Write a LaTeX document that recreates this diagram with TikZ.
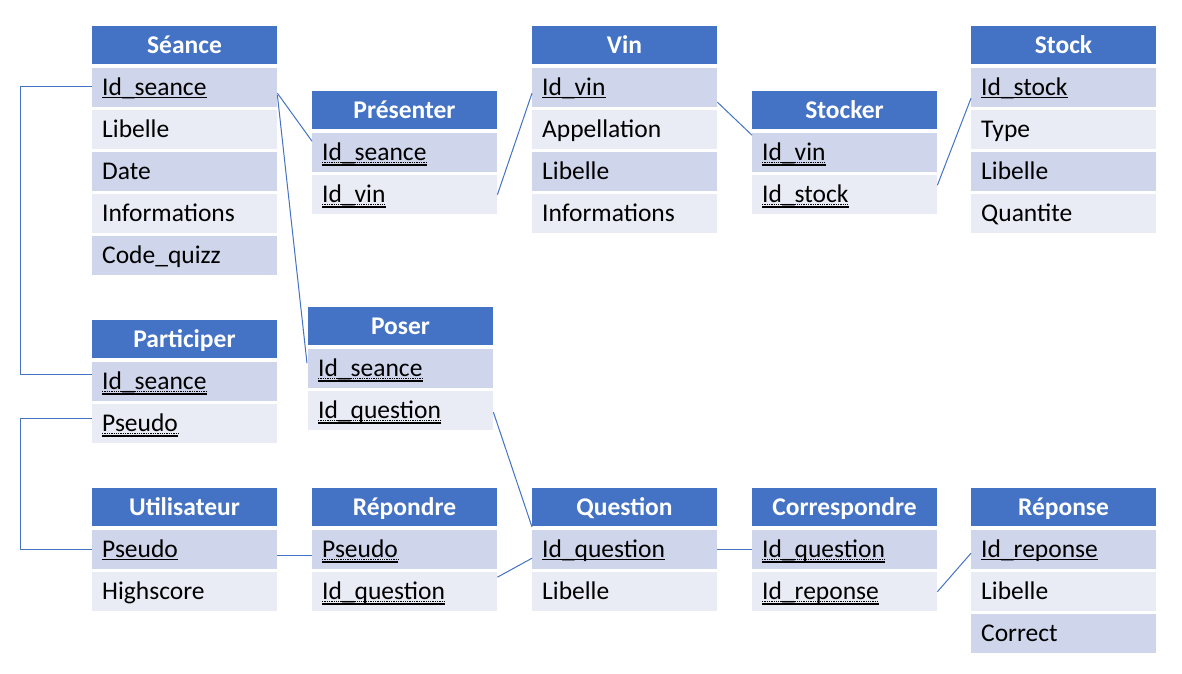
\documentclass[tikz,border=0pt]{standalone}
\usepackage{fontspec}
\setmainfont{Carlito}
\usetikzlibrary{calc}
\definecolor{hdr}{HTML}{4472C4}
\definecolor{rowa}{HTML}{CFD5EA}
\definecolor{rowb}{HTML}{E9EBF5}

\tikzset{
  hdrbox/.style={fill=hdr, inner sep=0pt, minimum width=185pt, minimum height=38pt, anchor=north west},
  rowbox/.style={inner sep=0pt, minimum width=185pt, minimum height=39pt, anchor=north west},
  hdrtext/.style={inner sep=0pt, anchor=base, text=white, font=\fontsize{25.5}{30}\selectfont\bfseries},
  rowtext/.style={inner sep=0pt, anchor=base west, text=black, font=\fontsize{25.5}{30}\selectfont},
  pkline/.style={line width=1.8pt},
  fkdots/.style={line width=1.3pt, dash pattern=on 1.3pt off 1pt},
  fkline/.style={line width=1.3pt},
  link/.style={draw=hdr, line width=1pt}
}

% \entity{id}{left}{top}{title}{key/text rows}; keys: p primary, f foreign, n plain
\newcommand\entity[5]{%
  \node[hdrbox] (#1-h) at (#2,#3) {};
  \node[hdrtext] (#1-ht) at ({#2+92.5},{#3+27}) {#4};
  \foreach \k/\t [count=\i] in {#5}{%
    \ifodd\i\def\rc{rowa}\else\def\rc{rowb}\fi
    \node[rowbox, fill=\rc] (#1-\i) at (#2,{#3+42*\i}) {};
    \node[rowtext] (#1-\i-t) at ({#2+10},{#3+42*\i+27}) {\t};
    \if\k p
      \draw[pkline] ([yshift=-2.5pt]#1-\i-t.base west) -- ([yshift=-2.5pt]#1-\i-t.base east);
    \fi
    \if\k f
      \draw[fkdots] ([yshift=-2.8pt]#1-\i-t.base west) -- ([yshift=-2.8pt]#1-\i-t.base east);
      \draw[fkline] ([yshift=-5pt]#1-\i-t.base west) -- ([yshift=-5pt]#1-\i-t.base east);
    \fi
  }%
}

\begin{document}
\begin{tikzpicture}[x=1pt, y=-1pt]
\useasboundingbox (0,0) rectangle (1182,673);
\fill[white] (0,0) rectangle (1182,673);

\entity{seance}{92}{26}{Séance}{p/Id\_seance, n/Libelle, n/Date, n/Informations, n/Code\_quizz}
\entity{presenter}{312}{91}{Présenter}{f/Id\_seance, f/Id\_vin}
\entity{vin}{532}{26}{Vin}{p/Id\_vin, n/Appellation, n/Libelle, n/Informations}
\entity{stocker}{752}{91}{Stocker}{f/Id\_vin, f/Id\_stock}
\entity{stock}{971}{26}{Stock}{p/Id\_stock, n/Type, n/Libelle, n/Quantite}
\entity{participer}{92}{320}{Participer}{f/Id\_seance, f/Pseudo}
\entity{poser}{308}{307}{Poser}{f/Id\_seance, f/Id\_question}
\entity{utilisateur}{92}{488}{Utilisateur}{p/Pseudo, n/Highscore}
\entity{repondre}{312}{488}{Répondre}{f/Pseudo, f/Id\_question}
\entity{question}{532}{488}{Question}{p/Id\_question, n/Libelle}
\entity{correspondre}{752}{488}{Correspondre}{f/Id\_question, f/Id\_reponse}
\entity{reponse}{971}{488}{Réponse}{p/Id\_reponse, n/Libelle, n/Correct}

% relationships
\draw[link] ([yshift=-5.5pt]seance-1.east) -- ([yshift=11.5pt]presenter-1.west);
\draw[link] ([yshift=-7.5pt]seance-1.east) -- ([xshift=-1pt,yshift=5.5pt]poser-1.west);
\draw[link] (presenter-2.east) -- ([yshift=-5.5pt]vin-1.west);
\draw[link] ([yshift=-14.5pt]vin-1.east) -- ([yshift=17.5pt]stocker-1.west);
\draw[link] ([yshift=9.5pt]stocker-2.east) -- ([yshift=-10.5pt]stock-1.west);
\draw[link] ([yshift=1.5pt]seance-1.west) -- ++(-72,0) |- ([yshift=7.5pt]participer-1.west);
\draw[link] ([yshift=5.5pt]participer-2.west) -- ++(-72,0) |- (utilisateur-1.west);
\draw[link] ([yshift=-5.5pt]utilisateur-1.east) -- ([yshift=-5.5pt]repondre-1.west);
\draw[link] ([yshift=-1.5pt]poser-2.east) -- ([yshift=3pt]question-1.north west);
\draw[link] ([yshift=14.5pt]repondre-2.east) -- ([yshift=-8.5pt]question-1.west);
\draw[link] (question-1.east) -- (correspondre-1.west);
\draw[link] (correspondre-2.east) -- ([yshift=-3.5pt]reponse-1.west);
\end{tikzpicture}
\end{document}
